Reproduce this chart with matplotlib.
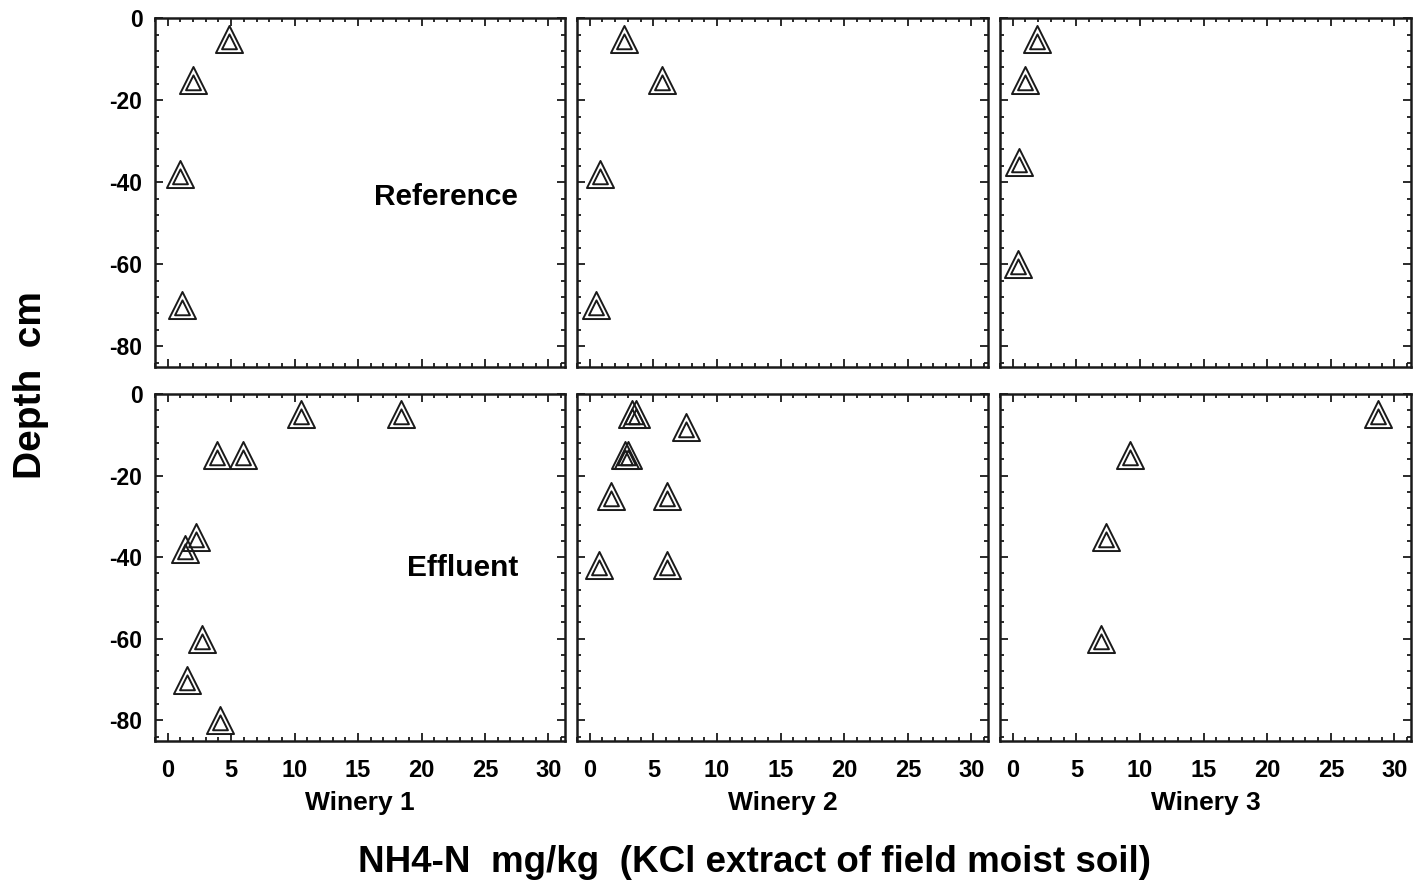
import numpy as np
import matplotlib
matplotlib.use("Agg")
import matplotlib.pyplot as plt
from matplotlib.path import Path
from matplotlib.ticker import MultipleLocator

plt.rcParams['font.family'] = ['Liberation Sans', 'DejaVu Sans']
plt.rcParams['font.weight'] = 'bold'
plt.rcParams['axes.unicode_minus'] = False

# ---- data (NH4-N mg/kg, depth cm) ----
w1_ref_x = [4.8, 2.0, 1.0, 1.1]
w1_ref_y = [-5, -15, -38, -70]
w2_ref_x = [2.7, 5.7, 0.8, 0.5]
w2_ref_y = [-5, -15, -38, -70]
w3_ref_x = [1.9, 1.0, 0.5, 0.4]
w3_ref_y = [-5, -15, -35, -60]

w1_eff_x = [10.5, 18.4, 3.9, 5.95, 2.2, 1.4, 2.7, 1.5, 4.15]
w1_eff_y = [-5, -5, -15, -15, -35, -38, -60, -70, -80]
w2_eff_x = [3.3, 3.65, 7.6, 2.8, 3.0, 1.7, 6.05, 0.7, 6.1]
w2_eff_y = [-5, -5, -8, -15, -15, -25, -25, -42, -42]
w3_eff_x = [28.7, 9.25, 7.3, 6.95]
w3_eff_y = [-5, -15, -35, -60]

wineries = ["Winery 1", "Winery 2", "Winery 3"]
row_labels = ["Reference", "Effluent"]
x_ticks = [0, 5, 10, 15, 20, 25, 30]
y_ticks = [0, -20, -40, -60, -80]
xlabel = "NH4-N  mg/kg  (KCl extract of field moist soil)"
ylabel = "Depth  cm"

data = [[(w1_ref_x, w1_ref_y), (w2_ref_x, w2_ref_y), (w3_ref_x, w3_ref_y)],
        [(w1_eff_x, w1_eff_y), (w2_eff_x, w2_eff_y), (w3_eff_x, w3_eff_y)]]

# double-triangle marker
outer = np.array([[0, 1], [-1, -1], [1, -1], [0, 1]], float)
inc = np.array([0, -0.382])
k = 0.55
inner = inc + k * (outer - inc)
verts = np.vstack([outer, inner])
codes = [Path.MOVETO, Path.LINETO, Path.LINETO, Path.CLOSEPOLY] * 2
dtri = Path(verts, codes)

W, H = 1416, 885
fig = plt.figure(figsize=(W / 100, H / 100), dpi=100)

cols = [(155, 565), (577, 988), (1000, 1411)]
rows = [(18.3, 366.7), (394, 740.7)]

axes = []
for r, (yt, yb) in enumerate(rows):
    for c, (xl, xr) in enumerate(cols):
        ax = fig.add_axes([xl / W, 1 - yb / H, (xr - xl) / W, (yb - yt) / H])
        xs, ys = data[r][c]
        ax.plot(xs, ys, linestyle='none', marker=dtri, markersize=19.5,
                markerfacecolor='none', markeredgecolor='#1a1a1a',
                markeredgewidth=1.4)
        ax.set_xlim(-1, 31.3)
        ax.set_ylim(-85, 0)
        ax.set_xticks(x_ticks)
        ax.set_yticks(y_ticks)
        ax.xaxis.set_minor_locator(MultipleLocator(1))
        ax.yaxis.set_minor_locator(MultipleLocator(4))
        ax.tick_params(which='both', direction='in', top=True, right=True,
                       width=1.3, color='#1a1a1a')
        ax.tick_params(which='major', length=6)
        ax.tick_params(axis='x', which='major', labelsize=17, pad=13)
        ax.tick_params(axis='y', which='major', labelsize=16.5, pad=9)
        ax.tick_params(which='minor', length=3)
        for s in ax.spines.values():
            s.set_linewidth(1.8)
            s.set_color('#1a1a1a')
        if c != 0:
            ax.tick_params(labelleft=False)
        if r != 1:
            ax.tick_params(labelbottom=False)
        for lab in ax.get_xticklabels() + ax.get_yticklabels():
            lab.set_fontweight('bold')
        axes.append(ax)

# row labels
fig.text(518 / W, 1 - 197 / H, row_labels[0], ha='right', va='center',
         fontsize=21.5, fontweight='bold')
fig.text(518 / W, 1 - 568 / H, row_labels[1], ha='right', va='center',
         fontsize=21.5, fontweight='bold')

# winery labels
for c, (xl, xr) in enumerate(cols):
    fig.text((xl + xr) / 2 / W, 1 - 803 / H, wineries[c], ha='center',
             va='center', fontsize=19, fontweight='bold')

fig.text(755 / W, 1 - 862 / H, xlabel, ha='center', va='center',
         fontsize=26.5, fontweight='bold')
fig.text(31 / W, 1 - 385 / H, ylabel, ha='center', va='center',
         rotation=90, fontsize=28, fontweight='bold')

fig.savefig("out.png", dpi=100, facecolor='white')
